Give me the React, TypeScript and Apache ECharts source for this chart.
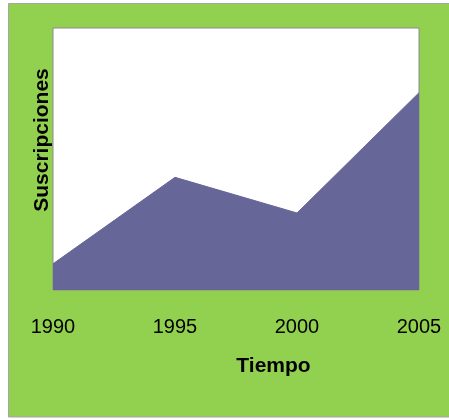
import React, { useEffect, useRef } from "react";
import * as echarts from "echarts";

const years = ["1990", "1995", "2000", "2005"];
const subscriptions = [10, 43, 29.4, 75.3];
const xTitle = "Tiempo";
const yTitle = "Suscripciones";

export default function App() {
  const ref = useRef<HTMLDivElement>(null);
  useEffect(() => {
    const chart = echarts.init(ref.current!, null, { renderer: "svg" });
    chart.setOption({
      animation: false,
      textStyle: { fontFamily: "Liberation Sans, Arial, sans-serif" },
      graphic: [
        {
          type: "rect",
          z: -100,
          shape: { x: 8.5, y: 3.5, width: 445, height: 413.5 },
          style: { fill: "#92d050", stroke: "#a6a6a6", lineWidth: 1 },
        },
        {
          type: "text",
          x: 273.5,
          y: 364,
          style: {
            text: xTitle,
            fontFamily: "Liberation Sans, Arial, sans-serif",
            fontWeight: "bold",
            fontSize: 21,
            fill: "#000",
            align: "center",
            verticalAlign: "middle",
          },
        },
        {
          type: "text",
          x: 40,
          y: 140,
          rotation: Math.PI / 2,
          style: {
            text: yTitle,
            fontFamily: "Liberation Sans, Arial, sans-serif",
            fontWeight: "bold",
            fontSize: 21,
            fill: "#000",
            align: "center",
            verticalAlign: "middle",
          },
        },
      ],
      grid: {
        left: 53,
        top: 28,
        right: 30,
        bottom: 129,
        show: true,
        backgroundColor: "#ffffff",
        borderColor: "#8c8c8c",
        borderWidth: 1,
      },
      xAxis: {
        type: "category",
        data: years,
        boundaryGap: false,
        axisLine: { show: false },
        axisTick: { show: false },
        axisLabel: {
          fontSize: 20,
          color: "#000",
          margin: 26,
          fontFamily: "Liberation Sans, Arial, sans-serif",
        },
        splitLine: { show: false },
      },
      yAxis: {
        type: "value",
        min: 0,
        max: 100,
        show: false,
        splitLine: { show: false },
      },
      series: [
        {
          type: "line",
          data: subscriptions,
          showSymbol: false,
          symbol: "none",
          lineStyle: { color: "#666699", width: 1 },
          areaStyle: { color: "#666699", opacity: 1 },
        },
      ],
    });
    return () => chart.dispose();
  }, []);
  return (
    <div
      ref={ref}
      style={{ position: "fixed", left: 0, top: 0, width: 449, height: 419 }}
    />
  );
}
